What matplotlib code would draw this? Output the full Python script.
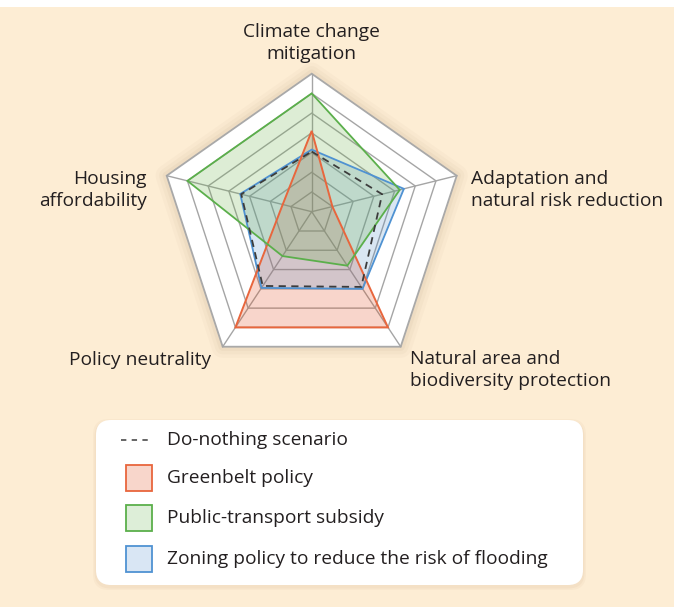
import numpy as np
import matplotlib
matplotlib.use("Agg")
import matplotlib.pyplot as plt
from matplotlib.patches import Polygon, FancyBboxPatch, Rectangle
from matplotlib.lines import Line2D

plt.rcParams['font.family'] = ['Open Sans', 'DejaVu Sans']

# ---- data (scale 0..7) ----
axes_labels = ["Climate change\nmitigation",
               "Adaptation and\nnatural risk reduction",
               "Natural area and\nbiodiversity protection",
               "Policy neutrality",
               "Housing\naffordability"]
do_nothing = [3.05, 3.4, 3.9, 3.85, 3.4]
greenbelt = [4.1, 1.0, 6.0, 6.0, 1.4]
transport = [6.0, 4.25, 2.8, 2.3, 6.0]
zoning = [3.15, 4.45, 4.0, 3.95, 3.45]
series_names = ["Do-nothing scenario", "Greenbelt policy",
                "Public-transport subsidy",
                "Zoning policy to reduce the risk of flooding"]
n_rings = 7

# ---- layout (pixel space) ----
W, H = 674, 615
fig = plt.figure(figsize=(W / 100, H / 100), dpi=100)
fig.patch.set_facecolor("white")
ax = fig.add_axes([0, 0, 1, 1])
ax.set_xlim(0, W)
ax.set_ylim(H, 0)
ax.axis("off")

BG = "#FDEDD4"
ax.add_patch(Rectangle((0, 7), W, 600, facecolor=BG, edgecolor="none", zorder=0))

cx, cy = 311.7, 211.7
# direction vectors for the outer ring (value = n_rings)
outer = np.array([[0, -138], [145, -36], [89, 135], [-89, 135], [-145, -36]], float)
unit = outer / n_rings


def pts(values):
    v = np.asarray(values, float)[:, None]
    return np.column_stack([cx + unit[:, 0:1] * v, cy + unit[:, 1:2] * v])


# shadow around pentagon
for lw, a in [(16, 0.03), (11, 0.04), (6, 0.05)]:
    ax.add_patch(Polygon(pts([n_rings] * 5), closed=True, facecolor="none",
                         edgecolor="#8a6a40", lw=lw, alpha=a, joinstyle="round", zorder=1))
ax.add_patch(Polygon(pts([n_rings] * 5), closed=True, facecolor="white",
                     edgecolor="#A9A9A9", lw=1.3, zorder=2))
GRID = "#A5A5A5"
for k in range(1, n_rings):
    ax.add_patch(Polygon(pts([k] * 5), closed=True, facecolor="none",
                         edgecolor=GRID, lw=1.0, zorder=3))
for i in range(5):
    p = pts([n_rings] * 5)[i]
    ax.plot([cx, p[0]], [cy, p[1]], color=GRID, lw=1.0, zorder=3)

# fills (low alpha with saturated colours to mimic multiply blending)
RED_E, RED_F = "#E8663D", "#E04413"
GRN_E, GRN_F = "#5BAF4B", "#65AD44"
BLU_E, BLU_F = "#4F92D2", "#528EC8"
FA = 0.22
ax.add_patch(Polygon(pts(greenbelt), closed=True, facecolor=RED_F, alpha=FA,
                     edgecolor="none", zorder=4))
ax.add_patch(Polygon(pts(zoning), closed=True, facecolor=BLU_F, alpha=FA,
                     edgecolor="none", zorder=4))
ax.add_patch(Polygon(pts(transport), closed=True, facecolor=GRN_F, alpha=FA,
                     edgecolor="none", zorder=4))
# outlines
ax.add_patch(Polygon(pts(zoning), closed=True, facecolor="none",
                     edgecolor=BLU_E, lw=1.3, zorder=5))
ax.add_patch(Polygon(pts(greenbelt), closed=True, facecolor="none",
                     edgecolor=RED_E, lw=1.4, zorder=5))
ax.add_patch(Polygon(pts(transport), closed=True, facecolor="none",
                     edgecolor=GRN_E, lw=1.3, zorder=5))
ax.add_patch(Polygon(pts(do_nothing), closed=True, facecolor="none",
                     edgecolor="#3C3C3C", lw=1.3, ls=(0, (4, 3)), zorder=6))

# axis labels
TXT = "#231F20"
fs = 13.8
ls = 1.3
ax.text(311, 43, axes_labels[0], ha="center", va="center", fontsize=fs,
        color=TXT, linespacing=ls)
ax.text(471, 190, axes_labels[1], ha="left", va="center", fontsize=fs,
        color=TXT, linespacing=ls)
ax.text(410, 370, axes_labels[2], ha="left", va="center", fontsize=fs,
        color=TXT, linespacing=ls)
ax.text(211, 360, axes_labels[3], ha="right", va="center", fontsize=fs,
        color=TXT, linespacing=ls)
ax.text(147, 190, axes_labels[4], ha="right", va="center", fontsize=fs,
        color=TXT, linespacing=ls)

# legend box
for pad, a in [(6, 0.05), (3, 0.06)]:
    ax.add_patch(FancyBboxPatch((96 - pad / 2, 420 - pad / 2 + 2), 487 + pad, 165 + pad,
                                boxstyle="round,pad=0,rounding_size=16",
                                facecolor="#b08050", edgecolor="none", alpha=a, zorder=7))
ax.add_patch(FancyBboxPatch((96, 420), 487, 165, boxstyle="round,pad=0,rounding_size=15",
                            facecolor="white", edgecolor="none", zorder=8))
ax.add_line(Line2D([121, 150], [440, 440], color="#3C3C3C", lw=1.1,
                   ls=(0, (3.5, 3.5)), zorder=9))
legend_patches = [(RED_E, "#F8D6CB"), (GRN_E, "#DDEED8"), (BLU_E, "#D9E6F4")]
ys = [440, 478, 518, 559]
for (ec, fc), y in zip(legend_patches, ys[1:]):
    ax.add_patch(Rectangle((125.5, y - 13), 26, 26, facecolor=fc, edgecolor=ec,
                           lw=1.3, zorder=9))
for name, y in zip(series_names, ys):
    ax.text(167, y, name, ha="left", va="center", fontsize=fs, color=TXT, zorder=10)

fig.savefig("out.png", dpi=100, facecolor=fig.get_facecolor())
